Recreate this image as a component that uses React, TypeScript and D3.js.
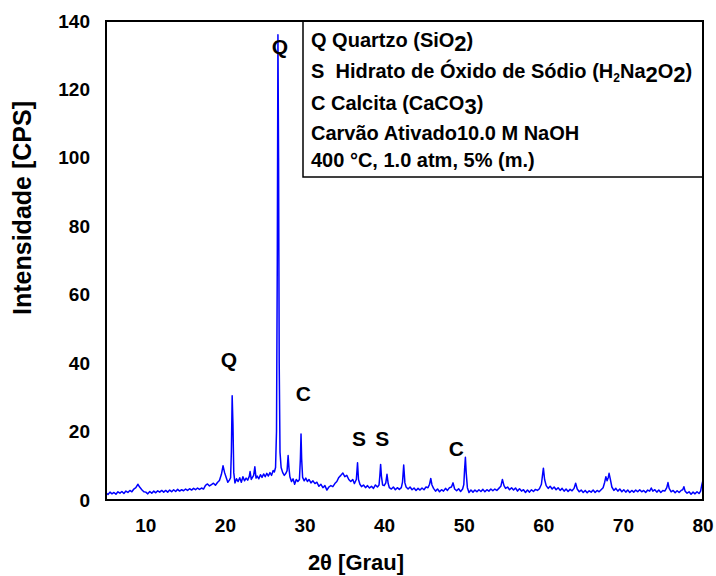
import React from 'react';
import * as d3 from 'd3';

const segLow: [number, number][] = [
  [5.0, 2.1], [5.25, 1.6], [5.5, 2.3], [5.75, 1.8], [6.0, 2.2], [6.25, 1.7], [6.5, 2.4], [6.75, 2.0],
  [7.0, 2.5], [7.25, 1.9], [7.5, 2.6], [7.75, 2.2], [8.0, 2.8], [8.25, 2.4], [8.5, 3.2], [8.75, 3.6],
  [9.0, 4.6], [9.25, 3.7], [9.5, 3.0], [9.75, 2.4], [10.0, 2.3], [10.25, 1.8], [10.5, 2.5], [10.75, 2.0],
  [11.0, 2.6], [11.25, 2.1], [11.5, 2.7], [11.75, 2.3], [12.0, 2.8], [12.25, 2.3], [12.5, 2.8], [12.75, 2.3],
  [13.0, 2.9], [13.25, 2.4], [13.5, 3.0], [13.75, 2.5], [14.0, 3.1], [14.25, 2.6], [14.5, 3.0], [14.75, 2.7],
  [15.0, 3.2], [15.25, 2.8], [15.5, 3.3], [15.75, 2.9], [16.0, 3.4], [16.25, 3.0], [16.5, 3.5], [16.75, 3.1],
  [17.0, 3.5], [17.25, 3.2], [17.5, 4.3], [17.75, 4.7], [18.0, 4.1], [18.25, 4.5], [18.5, 4.9], [18.75, 4.3],
  [19.0, 5.1], [19.25, 5.7], [19.5, 7.5], [19.7, 10.0], [19.9, 8.0], [20.1, 6.6], [20.3, 5.2], [20.5, 5.8],
];

const segQuartz: [number, number][] = [
  [20.65, 6.5], [20.75, 14], [20.85, 30.5], [20.95, 22], [21.05, 8], [21.2, 5.0], [21.4, 6.2], [21.6, 5.4],
  [21.8, 6.5], [22.0, 5.2], [22.2, 6.8], [22.4, 5.6], [22.6, 6.4], [22.8, 5.8], [23.0, 6.9], [23.1, 8.3],
  [23.25, 6.0], [23.4, 6.6], [23.55, 7.2], [23.7, 9.7], [23.85, 6.4], [24.0, 7.0], [24.2, 6.2], [24.4, 7.4],
  [24.6, 6.6], [24.8, 7.6], [25.0, 6.8], [25.2, 7.8], [25.4, 7.0], [25.6, 8.0], [25.8, 7.2], [26.0, 8.6],
  [26.15, 8.2], [26.3, 9.5], [26.42, 20], [26.52, 70], [26.6, 136], [26.68, 100], [26.76, 40], [26.86, 14],
  [27.0, 9.5], [27.2, 8.0], [27.4, 7.2], [27.6, 7.8], [27.75, 8.6], [27.88, 13], [27.98, 9.5], [28.1, 6.8],
  [28.3, 5.4], [28.5, 6.2], [28.7, 4.6], [28.9, 6.0], [29.1, 5.4], [29.3, 6.0], [29.42, 12], [29.5, 19.3],
  [29.58, 12], [29.7, 6.6], [29.9, 5.6], [30.1, 6.4], [30.3, 5.4], [30.5, 6.0], [30.75, 5.0], [31.0, 5.6],
];

const segMid: [number, number][] = [
  [31.25, 4.8], [31.5, 5.2], [31.75, 4.0], [32.0, 4.6], [32.25, 3.6], [32.5, 4.2], [32.75, 2.9], [33.0, 3.8],
  [33.25, 4.2], [33.5, 3.9], [33.75, 4.8], [34.0, 5.4], [34.25, 6.6], [34.5, 7.2], [34.75, 7.9], [35.0, 6.8],
  [35.25, 7.2], [35.5, 6.0], [35.75, 5.4], [36.0, 6.0], [36.2, 4.8], [36.45, 6.0], [36.6, 10.9], [36.72, 6.0],
  [36.9, 4.6], [37.1, 3.9], [37.35, 4.4], [37.6, 3.6], [37.85, 4.2], [38.1, 3.5], [38.35, 4.0], [38.6, 3.4],
  [38.85, 4.4], [39.1, 3.8], [39.3, 4.4], [39.4, 7], [39.5, 10.4], [39.6, 7], [39.75, 4.4], [39.95, 4.2],
  [40.15, 5.0], [40.3, 7.5], [40.45, 4.8], [40.6, 3.6], [40.85, 3.2], [41.1, 3.8], [41.35, 3.0], [41.6, 3.6],
  [41.85, 3.1], [42.1, 3.6], [42.25, 5.2], [42.4, 10.2], [42.55, 5.0], [42.7, 3.8], [42.95, 3.2], [43.2, 3.8],
  [43.45, 3.0], [43.7, 3.5], [43.95, 2.8], [44.2, 3.4], [44.45, 2.9], [44.7, 3.5], [44.95, 3.0], [45.2, 3.8],
  [45.45, 3.6], [45.65, 4.6], [45.8, 6.3], [45.95, 4.4], [46.15, 3.4], [46.4, 2.6], [46.65, 3.2], [46.9, 2.4],
  [47.15, 3.0], [47.4, 2.6], [47.65, 3.4], [47.9, 2.8], [48.15, 3.6], [48.4, 3.8], [48.6, 5.0], [48.8, 3.2],
  [49.05, 2.7], [49.3, 3.3], [49.55, 2.5], [49.8, 3.2], [49.95, 4.5], [50.05, 9], [50.15, 12.5], [50.25, 8],
  [50.4, 3.6], [50.6, 2.2], [50.85, 2.9], [51.1, 2.3], [51.35, 2.9], [51.6, 2.4], [51.85, 3.0], [52.1, 2.5],
];

const segHigh: [number, number][] = [
  [52.35, 3.1], [52.6, 2.4], [52.85, 3.0], [53.1, 2.6], [53.35, 3.2], [53.6, 2.7], [53.85, 3.2], [54.1, 2.8],
  [54.35, 3.4], [54.6, 4.0], [54.8, 6.0], [55.0, 4.2], [55.2, 3.4], [55.45, 3.8], [55.7, 3.0], [55.95, 3.6],
  [56.2, 2.9], [56.45, 3.5], [56.7, 2.6], [56.95, 3.3], [57.2, 2.6], [57.45, 3.0], [57.7, 2.2], [57.95, 2.9],
  [58.2, 2.3], [58.45, 3.0], [58.7, 2.5], [58.95, 3.1], [59.2, 2.8], [59.45, 3.3], [59.7, 4.6], [59.85, 7.5],
  [59.95, 9.3], [60.1, 6.0], [60.3, 4.2], [60.55, 3.4], [60.8, 4.0], [61.05, 3.2], [61.3, 3.8], [61.55, 3.0],
  [61.8, 3.6], [62.05, 2.8], [62.3, 3.4], [62.55, 2.6], [62.8, 3.2], [63.05, 2.5], [63.3, 3.1], [63.55, 2.7],
  [63.8, 3.4], [64.0, 4.9], [64.2, 3.2], [64.45, 2.4], [64.7, 2.9], [64.95, 2.2], [65.2, 2.8], [65.45, 2.1],
  [65.7, 2.7], [65.95, 2.3], [66.2, 2.9], [66.45, 2.2], [66.7, 2.8], [66.95, 2.4], [67.2, 3.0], [67.45, 3.6],
  [67.65, 5.2], [67.8, 6.8], [67.95, 5.6], [68.1, 6.6], [68.2, 7.8], [68.35, 6.2], [68.55, 3.8], [68.8, 2.8],
  [69.05, 3.4], [69.3, 2.6], [69.55, 3.2], [69.8, 2.4], [70.05, 3.0], [70.3, 2.3], [70.55, 2.9], [70.8, 2.2],
  [71.05, 2.8], [71.3, 2.3], [71.55, 2.9], [71.8, 2.4], [72.05, 3.0], [72.3, 2.4], [72.55, 2.8], [72.8, 2.2],
  [73.05, 2.9], [73.3, 2.6], [73.5, 3.5], [73.7, 2.6], [73.95, 3.0], [74.2, 2.3], [74.45, 2.9], [74.7, 2.2],
  [74.95, 2.8], [75.2, 2.6], [75.45, 3.6], [75.6, 5.1], [75.75, 3.4], [76.0, 2.4], [76.25, 2.8], [76.5, 2.1],
  [76.75, 2.7], [77.0, 2.2], [77.25, 2.8], [77.45, 3.0], [77.6, 3.9], [77.75, 2.6], [78.0, 2.0], [78.25, 2.4],
  [78.5, 1.7], [78.75, 2.3], [79.0, 1.8], [79.25, 2.4], [79.5, 1.9], [79.7, 2.6], [79.85, 4.4], [80.0, 5.8],
];

const xTicks = [10, 20, 30, 40, 50, 60, 70, 80];
const yTicks = [0, 20, 40, 60, 80, 100, 120, 140];

// rótulos das fases: [letra, 2θ, intensidade]
const phaseLabels: [string, number, number][] = [
  ['Q', 26.86, 130.4],
  ['Q', 20.45, 38.9],
  ['C', 29.8, 28.9],
  ['S', 36.8, 15.8],
  ['S', 39.7, 15.8],
  ['C', 49.0, 12.9],
];

const W = 716;
const H = 576;
const left = 106, right = 703, top = 21, bottom = 500;
const font = 'Arial, "Liberation Sans", Helvetica, sans-serif';

export default function App() {
  const pattern = [...segLow, ...segQuartz, ...segMid, ...segHigh];
  const x = d3.scaleLinear().domain([5, 80]).range([left, right]);
  const y = d3.scaleLinear().domain([0, 140]).range([bottom, top]);
  const line = d3
    .line<[number, number]>()
    .x((d) => x(d[0]))
    .y((d) => y(d[1]));

  const legX = 311;
  const legFs = 20;
  const big = 22;

  return (
    <svg
      width={W}
      height={H}
      style={{ position: 'absolute', left: 0, top: 0, background: '#fff' }}
      fontFamily={font}
      fontWeight="bold"
    >
      <rect x={0} y={0} width={W} height={H} fill="#fff" />
      <defs>
        <clipPath id="plotclip">
          <rect x={left} y={top} width={right - left} height={bottom - top} />
        </clipPath>
      </defs>
      <path d={line(pattern) || ''} fill="none" stroke="#0000ff" strokeWidth={1.5} strokeLinejoin="round" clipPath="url(#plotclip)" />

      {/* legend box */}
      <rect x={303} y={top} width={right - 303} height={156} fill="#fff" stroke="#000" strokeWidth={1.5} />
      <g fontSize={legFs} fill="#000">
        <text x={legX} y={47}>
          Q Quartzo (SiO<tspan fontSize={big} dy={4}>2</tspan><tspan dy={-4}>)</tspan>
        </text>
        <text x={legX} y={78} xmlSpace="preserve">
          S  Hidrato de Óxido de Sódio (H<tspan fontSize={12} dy={4}>2</tspan>
          <tspan dy={-4}>Na</tspan><tspan fontSize={big} dy={4}>2</tspan><tspan dy={-4}>O</tspan>
          <tspan fontSize={big} dy={4}>2</tspan><tspan dy={-4}>)</tspan>
        </text>
        <text x={legX} y={110}>
          C Calcita (CaCO<tspan fontSize={big} dy={4}>3</tspan><tspan dy={-4}>)</tspan>
        </text>
        <text x={legX} y={140}>Carvão Ativado10.0 M NaOH</text>
        <text x={legX} y={167}>400 °C, 1.0 atm, 5% (m.)</text>
      </g>

      {/* frame */}
      <rect x={left} y={top} width={right - left} height={bottom - top} fill="none" stroke="#000" strokeWidth={2} />

      {/* phase labels */}
      {phaseLabels.map(([t, a, b], i) => (
        <text key={i} x={x(a)} y={y(b)} textAnchor="middle" fontSize={21} fill="#000">
          {t}
        </text>
      ))}

      {/* ticks labels */}
      {yTicks.map((v) => (
        <text key={v} x={90} y={y(v)} textAnchor="end" dominantBaseline="central" fontSize={19} fill="#000">
          {v}
        </text>
      ))}
      {xTicks.map((v) => (
        <text key={v} x={x(v)} y={532} textAnchor="middle" fontSize={19} fill="#000">
          {v}
        </text>
      ))}

      <text x={356} y={570} textAnchor="middle" fontSize={22} fill="#000">
        2θ [Grau]
      </text>
      <text
        transform={`translate(31, 208) rotate(-90)`}
        textAnchor="middle"
        fontSize={25}
        fill="#000"
      >
        Intensidade [CPS]
      </text>
    </svg>
  );
}
